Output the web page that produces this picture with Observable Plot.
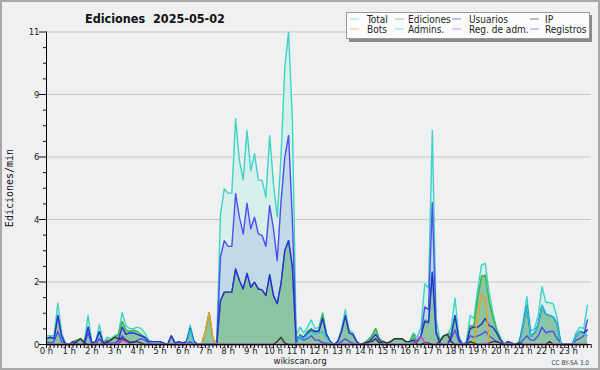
<!DOCTYPE html>
<html><head><meta charset="utf-8">
<script src="https://cdn.jsdelivr.net/npm/d3@7"></script>
<script src="https://cdn.jsdelivr.net/npm/@observablehq/plot@0.6"></script>
<style>
html,body{margin:0;padding:0;background:#fff;}
#chart svg{display:block;}
</style></head><body><div id="chart"></div>
<script>
// ---- chart text ----
const titleText = "Ediciones  2025-05-02";
const yAxisTitle = "Ediciones/min";
const footerText = "wikiscan.org";
const licenseText = "CC BY-SA 3.0";
const seriesNames = ["Total","Ediciones","Usuarios","IP","Bots","Admins.","Reg. de adm.","Registros"];
const seriesColors = ["#3fd3c5","#3fb34a","#2b2be0","#333333","#f0a020","#2cc3de","#c83ae0","#4d4df2"];
const yTickLabels = ["0","2","4","6","9","11"];
const yMax = 10.8;
const hourLabels = d3.range(24).map(h => h + " h");

// ---- series values, edits per minute, one value per 10 minutes (0:00 .. 23:50) ----
const total = [
 0.3,0.3,0.3,1.43,0.4,0.05,  0,0.1,0.15,0.2,0.1,1.0,  0.05,0.1,0.68,0.05,0.25,0.2,  0.3,0.35,1.1,0.65,0.55,0.55,
 0.6,0.55,0.4,0.15,0.1,0.1,  0.1,0.05,0,0.3,0.05,0.1,  0.05,0.1,0.68,0.1,0,0,  0.45,1.1,0.2,0,4.51,5.38,
 5.23,5.23,7.80,6.36,5.69,7.39,  6.01,6.59,5.69,5.67,5.09,7.22,  5.55,4.40,6.47,9.58,10.79,7.74,  0.3,0.6,0.4,0.6,0.85,0.55,
 0.6,1.1,0.4,0.1,0,0.1,  0.55,1.2,0.5,0.4,0.1,0,  0.05,0.15,0.3,0.55,0.2,0.1,  0.05,0.1,0.2,0.2,0.2,0.1,
 0.1,0.4,0.25,0.6,2.1,1.95,  7.4,0.9,0.15,0.3,0.35,0.6,  1.6,0.3,0,0.1,1.0,0.9,  1.9,2.75,2.8,1.8,1.1,0.55,
 0.25,0,0.1,0.05,0,0.1,  0.8,1.65,0.45,0.55,1.0,2.0,  1.45,1.45,1.4,0.9,0.05,0,  0,0,0.4,0.6,0.55,1.35
];
const ediciones = [
 0.2,0.25,0.2,1.0,0.3,0,  0,0.1,0.15,0.2,0.1,0.6,  0.05,0.1,0.45,0.05,0.15,0.15,  0.25,0.35,0.8,0.5,0.45,0.5,
 0.45,0.35,0.25,0.1,0.1,0.1,  0.1,0.05,0,0.3,0.05,0.1,  0.05,0.1,0.55,0.1,0,0,  0.45,1.1,0.2,0,1.52,1.81,
 1.81,1.81,2.61,2.21,1.92,2.46,  1.98,2.15,1.92,1.89,1.69,2.41,  1.69,1.41,2.10,3.25,3.59,2.67,  0.05,0.35,0.25,0.45,0.55,0.45,
 0.5,1.05,0.35,0.1,0,0.1,  0.45,1.0,0.4,0.35,0.1,0,  0.05,0.15,0.3,0.55,0.2,0.1,  0.05,0.1,0.2,0.2,0.2,0.1,
 0.1,0.35,0.1,0.3,0.85,0.8,  2.5,0.4,0.15,0.3,0.35,0.4,  1.0,0.2,0,0.05,0.65,0.65,  1.6,2.35,2.4,1.5,0.95,0.5,
 0.2,0,0.1,0.05,0,0.1,  0.65,1.35,0.3,0.4,0.7,1.35,  1.05,1.0,0.95,0.7,0,0,  0,0,0.3,0.45,0.4,0.5
];
const usuarios = [
 0.2,0.25,0.2,1.0,0.3,0,  0,0.1,0.05,0,0.05,0.6,  0.05,0.1,0.45,0.05,0.05,0,  0,0.15,0.6,0.35,0.4,0.4,
 0.35,0.3,0.25,0.1,0.1,0.1,  0.1,0.05,0,0.3,0.05,0.1,  0.05,0.1,0.55,0.1,0,0,  0,0,0,0,1.52,1.81,
 1.81,1.81,2.61,2.21,1.92,2.46,  1.98,2.15,1.92,1.89,1.69,2.41,  1.69,1.41,2.10,3.25,3.59,2.67,  0.05,0.3,0.25,0.4,0.5,0.45,
 0.45,0.9,0.35,0.1,0,0.1,  0.45,1.0,0.4,0.35,0.1,0,  0,0.05,0.2,0.35,0.15,0,  0,0,0,0,0,0,
 0,0.2,0.1,0.3,0.8,0.75,  2.5,0.4,0.05,0,0,0.3,  1.0,0.2,0,0.05,0.55,0.6,  0.6,0.7,0.9,0.65,0.6,0.4,
 0.15,0,0.1,0.05,0,0.05,  0.65,1.35,0.3,0.4,0.7,1.35,  1.05,1.0,0.95,0.7,0,0,  0,0,0.3,0.45,0.4,0.5
];
const ip = [
 0,0,0,0,0,0,  0,0,0.1,0.2,0.05,0,  0,0,0,0,0.1,0.15,  0.25,0.2,0.2,0.15,0.05,0.1,
 0.1,0.05,0,0,0,0,  0,0,0,0,0,0,  0,0,0,0,0,0,  0,0,0,0,0,0,
 0,0,0,0,0,0,  0,0,0,0,0,0,  0,0.1,0.25,0.05,0,0,  0,0,0,0,0,0,
 0,0,0,0,0,0,  0,0,0,0,0,0,  0.05,0.1,0.1,0.2,0.05,0.1,  0.05,0.1,0.2,0.2,0.2,0.1,
 0.1,0.15,0,0,0.05,0.05,  0,0,0.1,0.3,0.35,0.1,  0,0,0,0,0.1,0.05,  0,0,0,0.05,0.1,0.1,
 0.05,0,0,0,0,0.05,  0,0,0,0,0,0,  0,0.1,0,0,0,0,  0,0,0,0,0,0
];
const bots = [
 0,0,0,0,0,0,  0,0,0,0,0,0,  0,0,0,0,0,0,  0,0,0,0,0,0,
 0,0,0,0,0,0,  0,0,0,0,0,0,  0,0,0,0,0,0,  0.45,1.1,0.2,0,0,0,
 0,0,0,0,0,0,  0,0,0,0,0,0,  0,0,0,0,0,0,  0,0,0,0,0,0,
 0,0,0,0,0,0,  0,0,0,0,0,0,  0,0,0,0,0,0,  0,0,0,0,0,0,
 0,0,0,0,0,0,  0,0,0,0,0,0,  0,0,0,0,0,0.05,  0.95,1.7,1.6,0.1,0,0,
 0,0,0,0,0,0,  0,0,0,0,0,0,  0,0,0,0,0,0,  0,0,0,0,0,0
];
const admins = [
 0,0,0,0,0,0,  0,0,0,0,0,0,  0,0,0,0,0,0,  0,0,0,0,0,0,
 0,0,0,0,0,0,  0,0,0,0,0,0,  0,0,0.5,0,0,0,  0,0,0,0,0,0,
 0,0,0,0,0,0,  0,0,0,0,0,0,  0,0,0,0,0,0,  0,0.3,0.2,0.35,0.45,0.35,
 0.4,0.45,0.25,0.05,0,0,  0,0,0,0,0,0,  0,0,0,0,0,0,  0,0,0,0,0,0,
 0,0.2,0,0,0,0,  0,0,0,0,0,0,  0,0,0,0,0,0,  0,0,0,0,0,0,
 0,0,0,0,0,0,  0.65,1.35,0.3,0.4,0.7,1.35,  1.05,1.0,0.95,0.7,0,0,  0,0,0.3,0.45,0.35,0.3
];
const regAdm = [
 0,0,0,0,0,0,  0,0,0,0,0,0,  0,0,0,0,0,0,  0,0,0.15,0.1,0,0,
 0,0,0,0,0,0,  0,0,0,0,0,0,  0,0,0,0,0,0,  0,0,0,0,0,0,
 0,0,0,0,0,0,  0,0,0,0,0,0,  0,0,0,0,0,0,  0,0,0,0,0,0,
 0,0,0,0,0,0,  0,0,0,0,0,0,  0,0,0,0,0,0,  0,0,0,0,0,0,
 0,0,0.15,0.3,0.05,0,  0,0,0,0,0,0,  0,0,0,0,0,0,  0,0,0.05,0,0,0,
 0,0,0,0,0,0,  0,0,0,0,0,0,  0,0,0,0,0,0,  0,0,0,0,0,0
];
const registros = [
 0.1,0.05,0.1,0.45,0.1,0.05,  0,0,0,0,0,0.4,  0,0,0.2,0,0.1,0.05,  0.05,0,0.3,0.15,0.1,0.05,
 0.15,0.2,0.15,0.05,0,0,  0,0,0,0,0,0,  0,0,0.1,0,0,0,  0,0,0,0,3.02,3.59,
 3.39,3.39,5.21,4.40,3.82,4.88,  4.0,4.40,3.82,3.77,3.39,4.80,  4.0,2.90,4.92,6.47,7.22,4.28,  0.25,0.25,0.15,0.2,0.3,0.15,
 0.15,0.05,0.05,0,0,0,  0.1,0.2,0.1,0.05,0,0,  0,0,0,0,0,0,  0,0,0,0,0,0,
 0,0.05,0.15,0.3,1.3,1.2,  4.9,0.5,0,0,0,0.2,  0.5,0.1,0,0.05,0.3,0.25,  0.3,0.35,0.45,0.3,0.2,0.1,
 0.05,0,0,0,0,0,  0.15,0.3,0.15,0.15,0.3,0.6,  0.4,0.45,0.45,0.2,0.05,0,  0,0,0.15,0.2,0.3,0.85
];

// ---- build table ----
const seriesValues = [total, ediciones, usuarios, ip, bots, admins, regAdm, registros];
const data = d3.range(total.length).map(i => {
  const row = {t: i / 6};
  seriesNames.forEach((n, k) => row[n] = seriesValues[k][i]);
  return row;
});

const majorTicks = d3.range(6).map(k => yMax * k / 5);
const minorTicks = d3.range(21).map(k => yMax * k / 20).filter((v, k) => k % 4 !== 0);
const tenMinTicks = d3.range(0, 145).map(i => i / 6);
const hourTicks = d3.range(24);

const font = "'DejaVu Sans Condensed', 'DejaVu Sans', sans-serif";
const lineOrder = ["Total","Registros","Ediciones","Usuarios","Admins.","Bots","IP","Reg. de adm."];
const colorOf = Object.fromEntries(seriesNames.map((n, k) => [n, seriesColors[k]]));

const chart = Plot.plot({
  width: 600, height: 370,
  marginLeft: 46, marginRight: 9.3, marginTop: 31.5, marginBottom: 26,
  style: {background: "#eff0f2", fontFamily: font, fontSize: "9.5px", color: "#111"},
  x: {domain: [0, 24]},
  y: {domain: [0, yMax]},
  marks: [
    Plot.ruleY(majorTicks.slice(1), {stroke: "#c8c8c8", strokeWidth: 1}),
    Plot.areaY(data, {x: "t", y: "Total", fill: "#d6f1eb"}),
    Plot.areaY(data, {x: "t", y: "Registros", fill: "#c2dae7"}),
    Plot.areaY(data, {x: "t", y: "Ediciones", fill: "#8cc5a3"}),
    ...lineOrder.map(n => Plot.lineY(data, {x: "t", y: n, stroke: colorOf[n], strokeWidth: 1.4})),
    Plot.ruleX([0], {stroke: "#000"}),
    Plot.ruleY([0], {stroke: "#000"}),
    Plot.axisY({ticks: majorTicks, tickSize: 7, tickPadding: 0, tickFormat: (d, i) => yTickLabels[majorTicks.indexOf(d)], label: null, fontSize: 9.5, fill: "#222"}),
    Plot.axisY({ticks: minorTicks, tickSize: 3, tickFormat: () => "", label: null}),
    Plot.axisX({ticks: tenMinTicks, tickSize: 4, tickFormat: () => "", label: null}),
    Plot.axisX({ticks: hourTicks, tickSize: 4, tickPadding: -1, tickFormat: d => hourLabels[d], label: null, fontSize: 9.5, fill: "#222"})
  ]
});
document.getElementById("chart").appendChild(chart);

// ---- frame, title, axis title, footer, legend ----
const svg = d3.select(chart);
svg.append("rect").attr("x", 1).attr("y", 1).attr("width", 598).attr("height", 368)
  .attr("fill", "none").attr("stroke", "#a8a8a8").attr("stroke-width", 2);
svg.append("text").attr("x", 85).attr("y", 23).attr("text-anchor", "start").text(titleText)
  .attr("font-family", font).attr("font-weight", "bold").attr("font-size", 12.5).attr("fill", "#111")
  .style("white-space", "pre");
svg.append("text").attr("transform", "translate(13,188) rotate(-90)").attr("text-anchor", "middle")
  .attr("font-family", "'DejaVu Sans Mono', monospace").attr("font-size", 10).attr("fill", "#111").text(yAxisTitle);
svg.append("text").attr("x", 300).attr("y", 364).attr("text-anchor", "middle")
  .attr("font-family", font).attr("font-size", 9.5).attr("fill", "#222").text(footerText);
svg.append("text").attr("x", 589).attr("y", 365).attr("text-anchor", "end")
  .attr("font-family", font).attr("font-size", 6.5).attr("fill", "#444").text(licenseText);

const lg = svg.append("g");
lg.append("rect").attr("x", 349).attr("y", 15).attr("width", 243).attr("height", 27).attr("fill", "#8a8a8a");
lg.append("rect").attr("x", 346.5).attr("y", 12.5).attr("width", 243).attr("height", 26).attr("fill", "#fcfcfc").attr("stroke", "#9a9a9a");
const swX = [350, 395, 452, 530], txX = [367, 408, 469, 545], rowY = [19, 29];
seriesNames.forEach((n, k) => {
  const c = k % 4, r = Math.floor(k / 4);
  lg.append("line").attr("x1", swX[c]).attr("x2", swX[c] + 9).attr("y1", rowY[r]).attr("y2", rowY[r])
    .attr("stroke", seriesColors[k]).attr("stroke-opacity", 0.6).attr("stroke-width", 1);
  lg.append("text").attr("x", txX[c]).attr("y", rowY[r] + 3.5).attr("text-anchor", "start").text(n)
    .attr("font-family", font).attr("font-size", 10).attr("fill", "#222");
});
</script></body></html>
